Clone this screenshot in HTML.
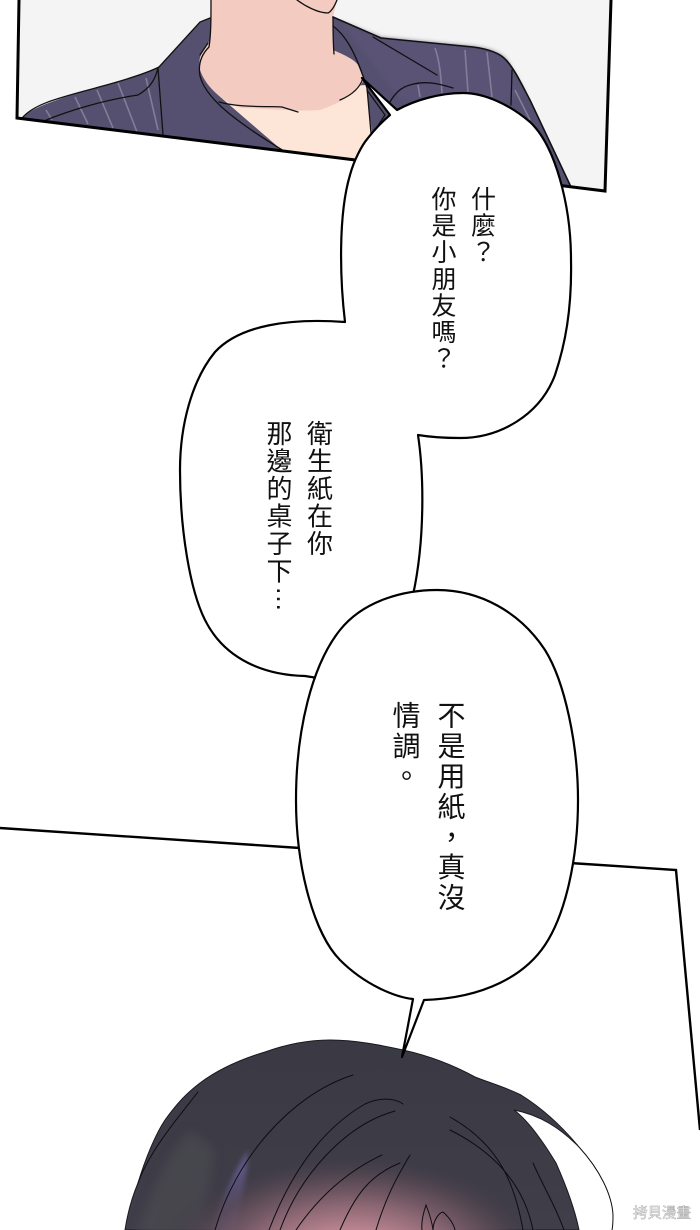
<!DOCTYPE html>
<html><head><meta charset="utf-8">
<style>
html,body{margin:0;padding:0;background:#fff}
#p{position:relative;width:700px;height:1230px;overflow:hidden;background:#fff}
svg{position:absolute;left:0;top:0}
.t{position:absolute;writing-mode:vertical-rl;font-family:"Liberation Sans","Noto Sans CJK TC",sans-serif;color:#111;white-space:nowrap;line-height:1}
.e{position:relative;left:8px;top:1px}
</style></head><body><div id="p">
<svg width="700" height="1230" viewBox="0 0 700 1230" xmlns="http://www.w3.org/2000/svg">
<defs>
<radialGradient id="face" gradientUnits="userSpaceOnUse" cx="352" cy="1268" r="200" gradientTransform="translate(352 1268) scale(1 .58) translate(-352 -1268)">
<stop offset="0" stop-color="#d0919f"/><stop offset=".3" stop-color="#c08894"/><stop offset=".55" stop-color="#8a6672"/><stop offset=".8" stop-color="#574853" stop-opacity=".8"/><stop offset="1" stop-color="#3b3944" stop-opacity="0"/>
</radialGradient>
<linearGradient id="hair" x1="0" y1="0" x2="0" y2="1"><stop offset="0" stop-color="#3a3944"/><stop offset="1" stop-color="#403e48"/></linearGradient>
<filter id="b" x="-30%" y="-30%" width="160%" height="160%"><feGaussianBlur stdDeviation="5"/></filter>
<filter id="c" x="-30%" y="-30%" width="160%" height="160%"><feGaussianBlur stdDeviation="2.5"/></filter>
<clipPath id="hc"><path d="M125,1230 C128,1210 133,1195 138,1183 C145,1160 155,1135 165,1120 C178,1102 188,1092 200,1083 C220,1068 245,1058 265,1052 C290,1043 310,1040 330,1040 C355,1040 380,1045 403,1050 C430,1056 455,1066 475,1077 C490,1083 505,1087 521,1095 C545,1110 565,1130 579,1147 C560,1128 540,1115 514,1110 C530,1122 545,1145 556,1163 C568,1190 575,1210 579,1230 Z"/></clipPath>
</defs>
<!-- top panel -->
<polygon points="19,0 611,0 605,191 17,118" fill="#f4f4f4"/>
<path d="M22,118 C30,108 60,98 99,87 C125,80 145,74 159,67 L200,22 L212,17 L333,17 L381,38 L473,47 C488,49 500,53 506,60 C514,68 522,85 530,100 L571,187 L360,161 Z" fill="#55506f"/>
<path d="M340,22 L381,38 L473,47 C488,49 500,53 506,60 L525,95 L480,110 L400,100 L370,60 Z" fill="#5a5375" filter="url(#c)"/>
<path d="M218,95 L284,152 L359,161 L372,133 L366,85 Z" fill="#fde6d8"/>
<path d="M211,0 L337,0 L333,17 L333,50 C345,55 355,60 358,65 L364,80 C355,95 340,103 320,110 C295,112 262,108 240,108 C220,100 205,85 200,70 C197,55 205,48 210,40 Z" fill="#f3cbc1"/>
<g stroke="#8a86a0" stroke-width="1.6" fill="none" opacity=".85">
<path d="M46,110 L52,120M75,97 L88,124M97,90 L113,128M118,83 L137,132M146,78 L158,130"/>
<path d="M435,48 C440,62 441,78 442,93M465,50 L468,92M487,52 L492,97M418,85 L420,97M515,90 L530,120"/>
</g>
<g fill="none" stroke="#111" stroke-width="1.3" stroke-linecap="round">
<path d="M211,0 C211,18 211,35 209,47 C201,55 198,65 200,76 C205,95 225,115 284,151"/>
<path d="M297,0 C305,6 318,13 328,13 C332,11 335,5 337,0"/>
<path d="M333,17 C333,30 333,42 334,54"/>
<path d="M333,26 C345,35 355,50 367,88 L371,133"/>
<path d="M219,102 C240,108 270,106 282,107 L298,112"/>
<path d="M340,100 C352,95 360,88 363,78"/>
<path d="M373,37 L437,75"/>
<path d="M390,102 C395,93 402,87 410,85 C425,80 440,84 453,88"/>
<path d="M367,90 L385,115 L371,136"/>
<path d="M22,118 C35,103 60,98 99,87 C125,80 145,74 159,67"/>
<path d="M44,121 C70,110 105,100 138,95 C150,88 155,80 158,68 L163,135"/>
<path d="M159,67 L200,22 L210,18"/>
<path d="M200,55 L208,43"/>
<path d="M333,17 L381,38 L473,47 C488,49 500,53 506,60 C514,68 522,85 530,100 L571,187" stroke-width="1.6"/>
<path d="M512,70 L511,105"/>
</g>
<path d="M19,0 L17,118 L605,191 L611,0" fill="none" stroke="#000" stroke-width="3"/>
<!-- lower panel -->
<path d="M0,828 L300,848M570,863 L676,870 L700,1130" fill="none" stroke="#000" stroke-width="2.4"/>
<!-- hair -->
<path d="M125,1230 C128,1210 133,1195 138,1183 C145,1160 155,1135 165,1120 C178,1102 188,1092 200,1083 C220,1068 245,1058 265,1052 C290,1043 310,1040 330,1040 C355,1040 380,1045 403,1050 C430,1056 455,1066 475,1077 C490,1083 505,1087 521,1095 C545,1110 565,1130 579,1147 C560,1128 540,1115 514,1110 C530,1122 545,1145 556,1163 C568,1190 575,1210 579,1230 Z" fill="url(#hair)" stroke="#1a1a22" stroke-width="1"/>
<g clip-path="url(#hc)">
<path d="M135,1240 C150,1190 170,1150 190,1130 L215,1150 L200,1240 Z" fill="#4e4e52" filter="url(#b)" opacity=".6"/>
<path d="M212,1240 C220,1200 235,1170 248,1150 C247,1185 238,1215 232,1240 Z" fill="#5d5684" filter="url(#c)"/>
<rect x="150" y="1130" width="420" height="110" fill="url(#face)"/>
</g>
<g fill="none" stroke="#0d0d12" stroke-width="1" stroke-linecap="round">
<path d="M579,1147 C600,1170 612,1195 613,1215 C613,1222 613,1226 612,1230"/>
<path d="M138,1183 C150,1150 180,1115 198,1092"/>
<path d="M215,1230 C235,1160 290,1095 353,1075"/>
<path d="M269,1230 C290,1175 320,1130 365,1104 C380,1097 395,1098 403,1104"/>
<path d="M280,1230 C300,1175 345,1125 395,1111"/>
<path d="M296,1230 C320,1195 350,1170 382,1155"/>
<path d="M340,1230 C355,1195 370,1175 400,1163"/>
<path d="M376,1230 C385,1200 395,1180 410,1155"/>
<path d="M523,1230 C515,1185 500,1145 450,1117"/>
<path d="M533,1230 C525,1190 500,1155 450,1130"/>
<path d="M564,1230 C555,1205 545,1190 533,1163"/>
<path d="M422,1230 C421,1222 423,1214 426,1205 C430,1215 432,1222 433,1230"/>
<path d="M433,1230 C433,1222 438,1213 443,1212 C450,1218 454,1225 455,1230"/>
</g>
<!-- bubbles -->
<path d="M345,322 C340,280 338,215 350,175 C354,160 362,145 368,138 C375,129 383,121 390,115 L362,78 L397,110 C415,100 440,93 463,93 C485,93 510,105 530,122 C555,145 571,205 571,260 C572,310 565,345 555,375 C540,415 500,438 460,438 C445,438 430,437 418,435 C424,475 425,540 413,595 L330,680 L305,676 C265,675 225,660 205,620 C190,590 180,530 180,470 C180,425 192,380 215,352 C240,325 290,318 345,322 Z" fill="#fff" stroke="#000" stroke-width="2.2" stroke-linejoin="round"/>
<path d="M413,999 C395,997 365,985 340,960 C315,935 296,870 296,800 C296,730 312,665 340,630 C364,600 405,590 437,590 C480,590 520,612 545,650 C565,682 578,745 578,800 C578,860 565,915 545,945 C525,975 485,998 424,1000 L402,1057 Z" fill="#fff" stroke="#000" stroke-width="2.2" stroke-linejoin="round"/>
<text x="633" y="1218" font-family="Liberation Sans,Noto Sans CJK TC,sans-serif" font-size="14.5" fill="#fff" stroke="#aaa" stroke-width=".5">拷貝漫畫</text>
</svg>
<div class="t" style="left:468.5px;top:186px;font-size:25px;letter-spacing:1.6px">什麼？</div>
<div class="t" style="left:429px;top:186px;font-size:25px;letter-spacing:1.6px">你是小朋友嗎？</div>
<div class="t" style="left:305.5px;top:419.5px;font-size:26px;letter-spacing:1.5px">衛生紙在你</div>
<div class="t" style="left:265px;top:419.5px;font-size:26px;letter-spacing:1.5px">那邊的桌子下<span class="e">…</span></div>
<div class="t" style="left:435.5px;top:701px;font-size:28px;letter-spacing:2.3px">不是用紙，真沒</div>
<div class="t" style="left:390.5px;top:701px;font-size:28px;letter-spacing:2.3px">情調。</div>
</div></body></html>
